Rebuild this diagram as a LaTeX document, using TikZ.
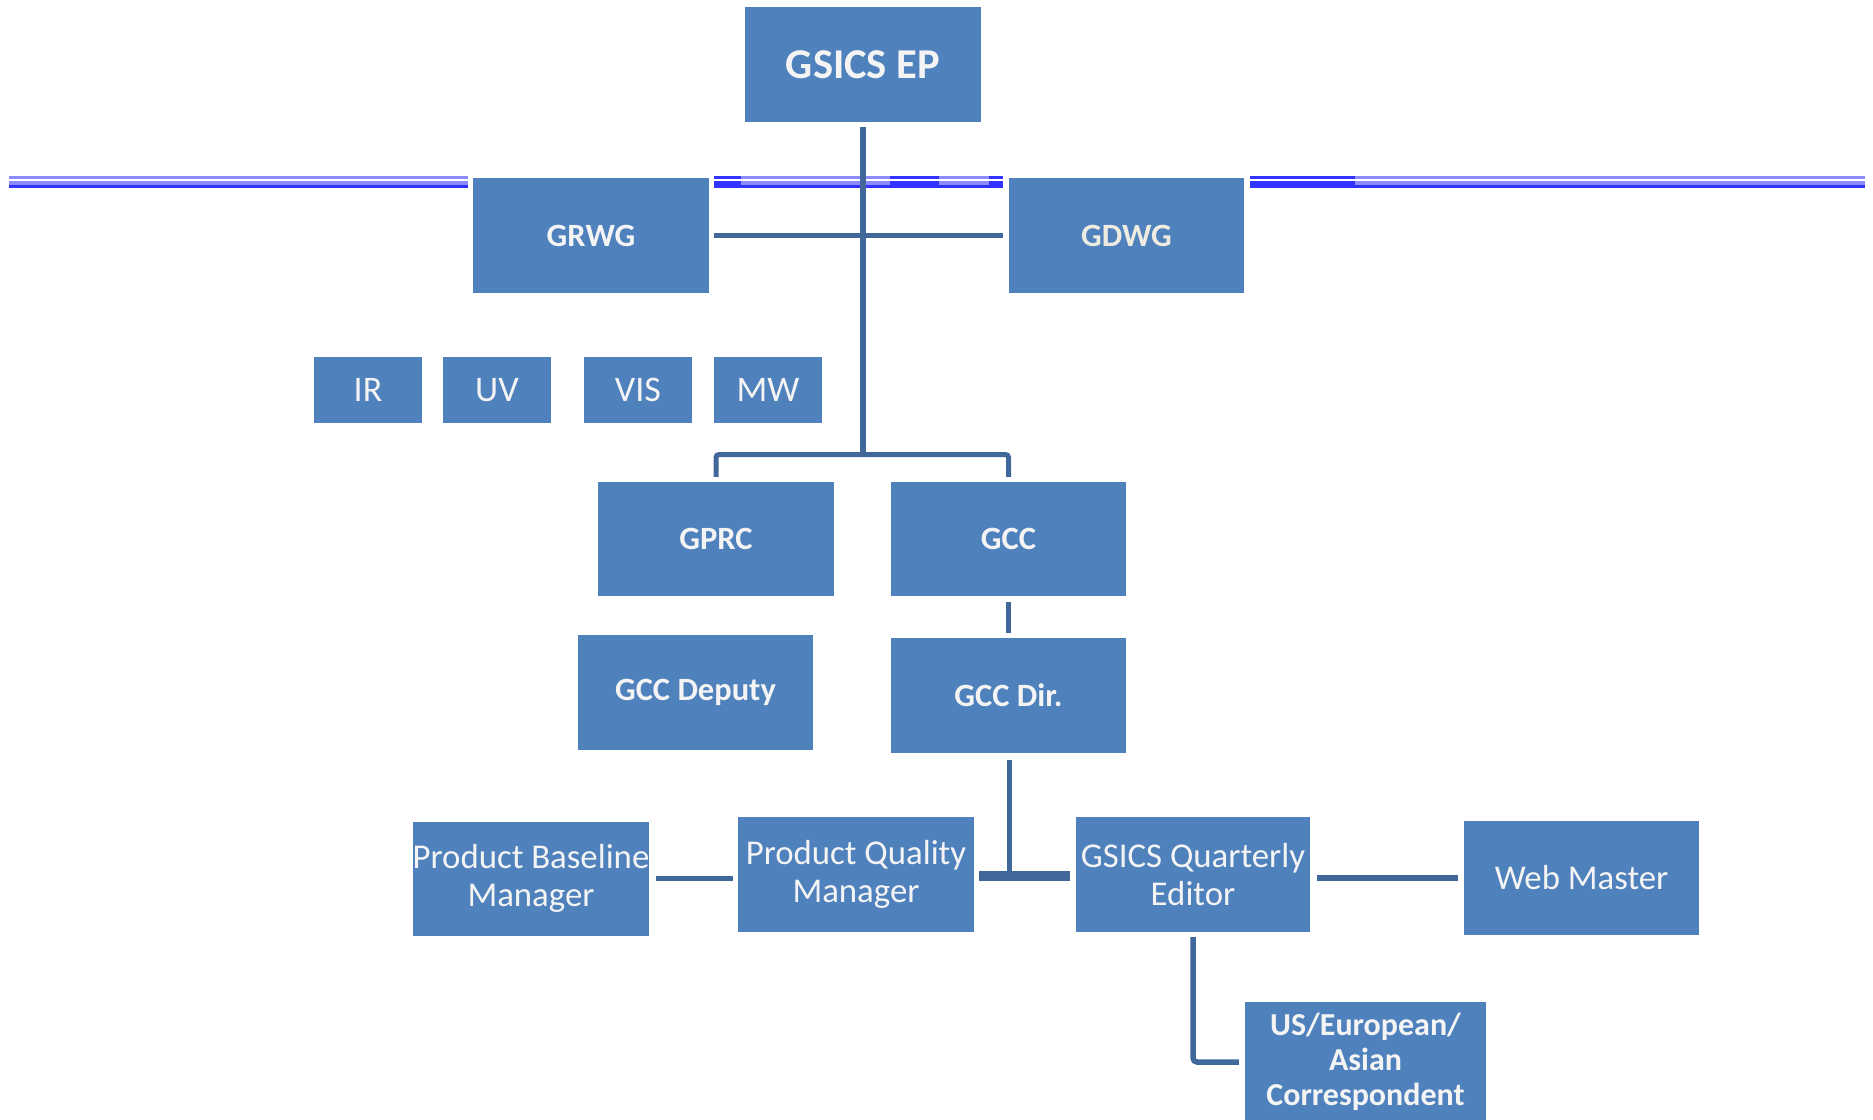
\documentclass[tikz,border=0pt]{standalone}
\usepackage{fontspec}
\setmainfont{Carlito}
\definecolor{boxblue}{HTML}{4F81BD}
\definecolor{linkblue}{HTML}{41689A}
\definecolor{txtw}{HTML}{F4F4F4}
\definecolor{cream}{HTML}{EEECE1}
\definecolor{stripedark}{HTML}{3333FF}
\definecolor{stripelight}{HTML}{8C8CFF}
\newcommand\lightseg[2]{%
  \fill[stripelight] (#1,176) rectangle (#2,178.7);
  \fill[stripelight] (#1,180.7) rectangle (#2,184.7);
  \fill[stripedark] (#1,184.7) rectangle (#2,188.3);}
\newcommand\darkseg[2]{%
  \fill[stripedark] (#1,176) rectangle (#2,178.7);
  \fill[stripedark] (#1,180.7) rectangle (#2,188.3);}
\begin{document}
\begin{tikzpicture}[x=1pt,y=-1pt,
  orgbox/.style={fill=boxblue, draw=none, inner sep=0pt, text=txtw, align=center,
    minimum width=236pt, minimum height=115pt},
  smallbox/.style={orgbox, minimum width=108pt, minimum height=66pt,
    font=\fontsize{36}{40}\selectfont},
  boldlbl/.style={font=\fontsize{32.5}{37}\selectfont\bfseries},
  normlbl/.style={font=\fontsize{34.8}{37.5}\selectfont},
  conn/.style={draw=linkblue, line width=5.5pt}]
\useasboundingbox (0,0) rectangle (1873,1119);
\clip (0,0) rectangle (1873,1119);

% decorative blue stripes
\lightseg{9}{468}
\darkseg{714}{741}
\lightseg{741}{890}
\darkseg{890}{939}
\lightseg{939}{989}
\darkseg{989}{1003}
\darkseg{1250}{1355}
\lightseg{1355}{1865}

% boxes
\node[orgbox, font=\fontsize{42.5}{50}\selectfont\bfseries] (ep) at (863,64.5) {GSICS EP};
\node[orgbox, boldlbl] (grwg) at (591,235.5) {GRWG};
\node[orgbox, boldlbl, text=cream, minimum width=235pt] (gdwg) at (1126.5,235.5) {GDWG};
\node[smallbox] (ir) at (368,390) {IR};
\node[smallbox] (uv) at (497,390) {UV};
\node[smallbox] (vis) at (638,390) {VIS};
\node[smallbox] (mw) at (768,390) {MW};
\node[orgbox, boldlbl, minimum height=114pt] (gprc) at (716,539) {GPRC};
\node[orgbox, boldlbl, minimum height=114pt, minimum width=235pt] (gcc) at (1008.5,539) {GCC};
\node[orgbox, boldlbl, minimum width=235pt] (dep) at (695.5,692.5) {GCC Deputy};
\node[orgbox, boldlbl, minimum width=235pt] (dir) at (1008.5,695.5) {GCC Dir.};
\node[orgbox, normlbl, minimum height=114pt] (pbm) at (531,878.5) {Product Baseline\\Manager};
\node[orgbox, normlbl] (pqm) at (856,874.5) {Product Quality\\Manager};
\node[orgbox, normlbl, minimum width=234pt] (gqe) at (1193,874.5) {\raisebox{2.4pt}{\parbox{234pt}{\centering GSICS Quarterly\\Editor}}};
\node[orgbox, normlbl, minimum height=114pt, minimum width=235pt] (web) at (1581.5,878) {Web Master};
\node[orgbox, font=\fontsize{32}{35}\selectfont\bfseries, minimum width=241pt, minimum height=120pt] (corr) at (1365.5,1062) {US/European/\\Asian\\Correspondent};

% connectors
\coordinate (brk) at (863,454.5);
\coordinate (tj) at (1009.5,876);
\draw[conn] ([yshift=-5pt]ep.south) -- (brk);
\draw[conn] ([xshift=5pt]grwg.east) -- ([xshift=-6pt]gdwg.west);
\draw[conn, line width=5pt, rounded corners=3pt] ([yshift=5pt]gprc.north) |- (brk) -| ([yshift=5pt]gcc.north);
\draw[conn, line width=5pt, shorten <=6pt, shorten >=5pt] (gcc.south) -- (dir.north);
\draw[conn, shorten <=7pt] (dir.south -| tj) -- (tj);
\draw[conn, line width=10pt, shorten <=5pt, shorten >=6pt] (pqm.east |- tj) -- (gqe.west |- tj);
\draw[conn, shorten <=6pt, shorten >=5pt] (pbm.east) -- (pbm.east -| pqm.west);
\draw[conn, shorten <=7pt, shorten >=6pt] (web.west -| gqe.east) -- (web.west);
\draw[conn, rounded corners=4pt, shorten <=5pt, shorten >=6pt] (gqe.south) |- (corr.west);
\end{tikzpicture}
\end{document}
